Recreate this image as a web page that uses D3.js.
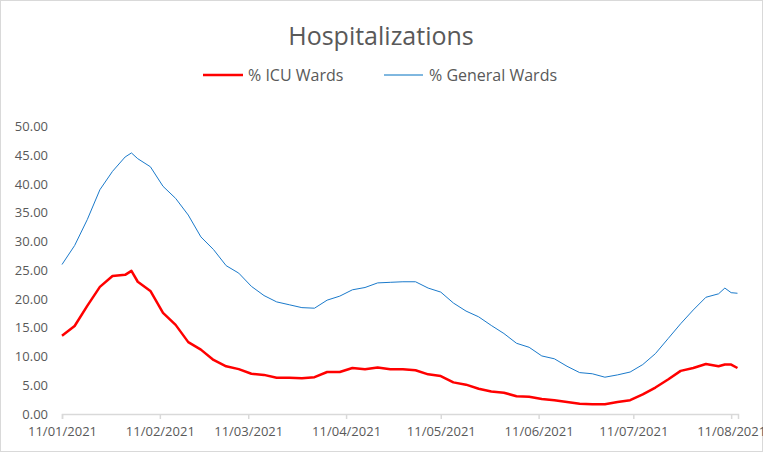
<!DOCTYPE html>
<html>
<head>
<meta charset="utf-8">
<script src="https://cdn.jsdelivr.net/npm/d3@7"></script>
<style>
  body { margin: 0; background: #fff; }
  text { font-family: "Open Sans", "Liberation Sans", sans-serif; fill: #595959; }
</style>
</head>
<body>
<svg id="chart" width="763" height="452"></svg>
<script>
// day offsets from 11/01/2021
var dayOffsets = [0, 4, 8, 12, 16, 20, 22, 24, 28, 32, 36, 40, 44, 48, 52, 56, 60, 64, 68, 72, 76,
  80, 84, 88, 92, 96, 100, 104, 108, 112, 116, 120, 124, 128, 132, 136, 140, 144, 148, 152, 156,
  160, 164, 168, 172, 176, 180, 184, 188, 192, 196, 200, 204, 208, 210, 212, 214];

var icuWards = [13.6, 15.3, 18.8, 22.1, 24.0, 24.2, 24.9, 23.0, 21.4, 17.6, 15.5, 12.5, 11.2, 9.4, 8.3, 7.8, 7.0,
  6.8, 6.3, 6.3, 6.2, 6.4, 7.3, 7.3, 8.0, 7.8, 8.1, 7.8, 7.8, 7.6, 6.9, 6.6, 5.5, 5.1, 4.4, 3.9, 3.7,
  3.1, 3.0, 2.6, 2.4, 2.1, 1.8, 1.7, 1.7, 2.1, 2.4, 3.4, 4.6, 6.0, 7.5, 8.0, 8.7, 8.3, 8.6, 8.6, 8.0];

var generalWards = [26.0, 29.3, 33.8, 39.0, 42.2, 44.7, 45.4, 44.4, 43.0, 39.6, 37.5, 34.6, 30.8, 28.6, 25.8, 24.5, 22.2,
  20.6, 19.5, 19.0, 18.5, 18.4, 19.8, 20.5, 21.6, 22.0, 22.8, 22.9, 23.0, 23.0, 21.9, 21.2, 19.3, 17.9, 16.9, 15.4, 14.0,
  12.3, 11.6, 10.1, 9.6, 8.3, 7.2, 7.0, 6.4, 6.8, 7.3, 8.6, 10.5, 13.1, 15.7, 18.1, 20.3, 20.9, 21.9, 21.1, 21.0];

var yTicks = [0, 5, 10, 15, 20, 25, 30, 35, 40, 45, 50];

var seriesNames = ['% ICU Wards', '% General Wards'];
var seriesColors = ['#ff0000', '#1a7acb'];

var startDate = new Date(2021, 0, 11);
var dates = dayOffsets.map(function(d){ return d3.timeDay.offset(startDate, d); });

var svg = d3.select('#chart');

// chart border
svg.append('rect')
  .attr('x', 0.5).attr('y', 0.5)
  .attr('width', 762).attr('height', 451)
  .attr('fill', '#fff')
  .attr('stroke', '#d9d9d9');

// scales
var x = d3.scaleTime()
  .domain([startDate, d3.timeHour.offset(startDate, 214.2 * 24)])
  .range([62, 738]);

var y = d3.scaleLinear()
  .domain([0, 50])
  .range([414, 126.5]);

// title
svg.append('text')
  .attr('x', 381).attr('y', 45)
  .attr('text-anchor', 'middle')
  .style('font-size', '25px')
  .text('Hospitalizations');

// legend
var legend = [
  { x1: 203, x2: 243, tx: 248, w: 2.5 },
  { x1: 384, x2: 423, tx: 429, w: 1 }
];
legend.forEach(function(l, i){
  svg.append('line')
    .attr('x1', l.x1).attr('x2', l.x2)
    .attr('y1', 75).attr('y2', 75)
    .attr('stroke', i === 1 ? '#0070c0' : seriesColors[i])
    .attr('stroke-width', l.w);
  svg.append('text')
    .attr('x', l.tx).attr('y', 81)
    .style('font-size', '16px')
    .text(seriesNames[i]);
});

// y axis labels
svg.append('g').selectAll('text')
  .data(yTicks)
  .enter().append('text')
    .attr('x', 48)
    .attr('y', function(d){ return y(d) + 4.5; })
    .attr('text-anchor', 'end')
    .style('font-size', '13px')
    .text(function(d){ return d3.format('.2f')(d); });

// x axis
var xTicks = d3.range(0, 8).map(function(m){ return new Date(2021, m, 11); });
var xAxis = svg.append('g')
  .attr('transform', 'translate(0,414)')
  .call(d3.axisBottom(x)
    .tickValues(xTicks)
    .tickSize(5)
    .tickSizeOuter(5)
    .tickFormat(d3.timeFormat('%d/%m/%Y')));
xAxis.select('.domain').attr('stroke', '#d9d9d9').attr('stroke-width', 1.5);
xAxis.selectAll('.tick line').attr('stroke', '#d9d9d9').attr('stroke-width', 1.5);
xAxis.selectAll('.tick text')
  .attr('dy', '1.05em')
  .style('font-size', '13px')
  .style('font-family', '"Open Sans", "Liberation Sans", sans-serif')
  .attr('fill', '#595959');

// lines
var line = d3.line()
  .x(function(d, i){ return x(dates[i]); })
  .y(function(d){ return y(d); });

svg.append('path')
  .datum(generalWards)
  .attr('fill', 'none')
  .attr('stroke', seriesColors[1])
  .attr('stroke-width', 1)
  .attr('d', line);

svg.append('path')
  .datum(icuWards)
  .attr('fill', 'none')
  .attr('stroke', seriesColors[0])
  .attr('stroke-width', 2.5)
  .attr('stroke-linejoin', 'round')
  .attr('d', line);
</script>
</body>
</html>
